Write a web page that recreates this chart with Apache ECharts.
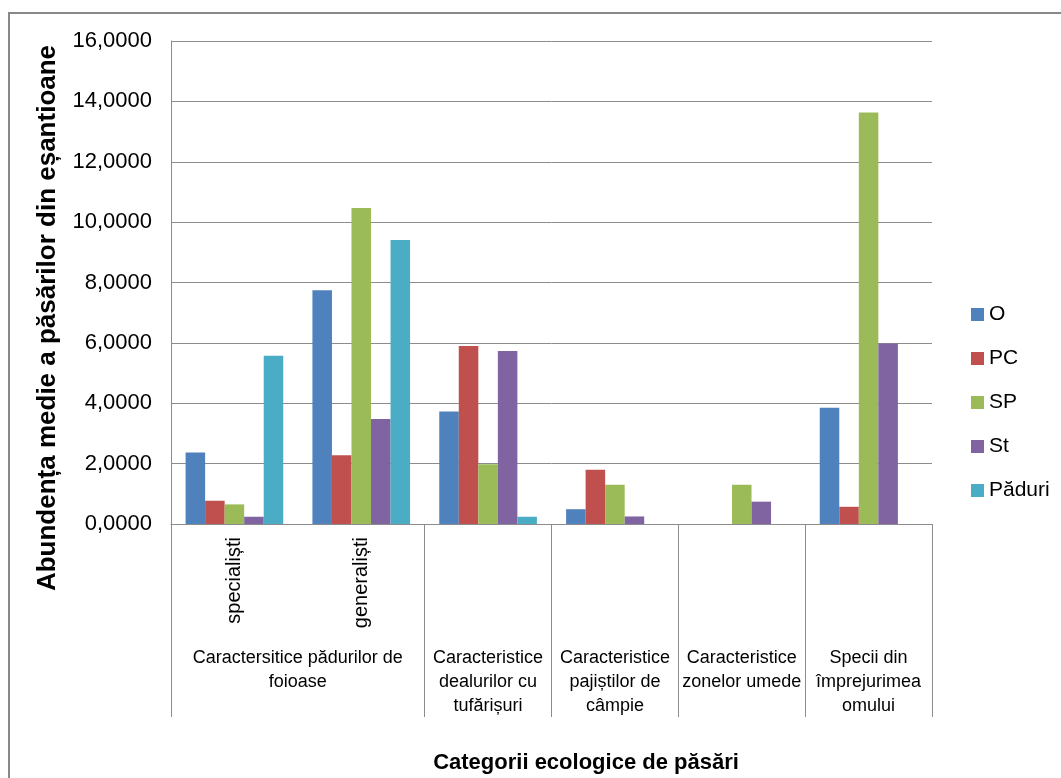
<!DOCTYPE html>
<html>
<head>
<meta charset="utf-8">
<script src="https://cdn.jsdelivr.net/npm/echarts@6/dist/echarts.min.js"></script>
<style>
  html, body { margin: 0; padding: 0; background: #fff; }
  #chart { width: 1061px; height: 778px; }
</style>
</head>
<body>
<div id="chart"></div>
<script>
// Ecological bird categories: group names and how many sub-categories each has
const groupNames = [
  'Caractersitice pădurilor de\nfoioase',
  'Caracteristice\ndealurilor cu\ntufărișuri',
  'Caracteristice\npajiștilor de\ncâmpie',
  'Caracteristice\nzonelor umede',
  'Specii din\nîmprejurimea\nomului'
];
const groupSizes = [2, 1, 1, 1, 1];

// leaf categories on the x axis (only the forest group is split)
const categories = ['specialiști', 'generaliști', 'dealuri', 'pajiști', 'zone umede', 'împrejurimi'];
const subLabelled = [true, true, false, false, false, false];

// mean abundance per sample, by habitat
const seriesNames = ['O', 'PC', 'SP', 'St', 'Păduri'];
const valuesO      = [2.37, 7.74, 3.73, 0.49, 0, 3.85];
const valuesPC     = [0.77, 2.28, 5.90, 1.80, 0, 0.57];
const valuesSP     = [0.65, 10.47, 1.98, 1.30, 1.30, 13.63];
const valuesSt     = [0.24, 3.48, 5.73, 0.25, 0.74, 5.98];
const valuesPaduri = [5.57, 9.41, 0.24, 0, 0, 0];

const yTicks = [0, 2, 4, 6, 8, 10, 12, 14, 16];
const yTitle = 'Abundența medie a păsărilor din eșantioane';
const xTitle = 'Categorii ecologice de păsări';

const colors = ['#4F81BD', '#C0504D', '#9BBB59', '#8064A2', '#4BACC6'];
const font = "'Liberation Sans', Arial, sans-serif";
const gray = '#8c8c8c';

// group boundaries and centres, measured in leaf-category units
const bounds = [0];
groupSizes.forEach(s => bounds.push(bounds[bounds.length - 1] + s));
const centers = groupSizes.map((s, i) => bounds[i] + s / 2);
const centerLabel = {};
centers.forEach((c, i) => { centerLabel[c.toFixed(2)] = groupNames[i]; });

const allValues = [valuesO, valuesPC, valuesSP, valuesSt, valuesPaduri];

const chart = echarts.init(document.getElementById('chart'), null, { renderer: 'canvas' });

chart.setOption({
  animation: false,
  color: colors,
  grid: { left: 171, right: 129, top: 41, bottom: 254, containLabel: false },
  legend: {
    orient: 'vertical',
    left: 966,
    top: 299,
    itemWidth: 13,
    itemHeight: 13,
    itemGap: 23,
    icon: 'rect',
    data: seriesNames,
    textStyle: { fontFamily: font, fontSize: 21, color: '#000', lineHeight: 21 }
  },
  xAxis: [
    {
      // leaf categories: carries the bars and the rotated sub-category labels
      type: 'category',
      data: categories,
      axisLine: { lineStyle: { color: gray, width: 1 } },
      axisTick: { show: false },
      axisLabel: {
        interval: 0,
        rotate: 90,
        margin: 13,
        fontFamily: font,
        fontSize: 20,
        color: '#000',
        formatter: (v, i) => subLabelled[i] ? v : ''
      }
    },
    {
      // group level: long separator ticks at group boundaries, names at centres
      type: 'value',
      min: 0,
      max: bounds[bounds.length - 1],
      position: 'bottom',
      axisLine: { show: false },
      splitLine: { show: false },
      axisTick: {
        show: true,
        length: 193,
        customValues: bounds,
        lineStyle: { color: gray, width: 1 }
      },
      axisLabel: {
        show: true,
        customValues: centers,
        margin: 122,
        fontFamily: font,
        fontSize: 18,
        lineHeight: 24,
        color: '#000',
        align: 'center',
        formatter: v => centerLabel[Number(v).toFixed(2)] || ''
      }
    }
  ],
  yAxis: {
    type: 'value',
    min: yTicks[0],
    max: yTicks[yTicks.length - 1],
    interval: 2,
    axisLine: { show: true, lineStyle: { color: gray, width: 1 } },
    axisTick: { show: false },
    splitLine: { lineStyle: { color: gray, width: 1 } },
    axisLabel: {
      margin: 19,
      fontFamily: font,
      fontSize: 22,
      color: '#000',
      formatter: v => v.toFixed(4).replace('.', ',')
    }
  },
  series: seriesNames.map((name, k) => ({
    name: name,
    type: 'bar',
    xAxisIndex: 0,
    data: allValues[k],
    barGap: '0%',
    barCategoryGap: '23%',
    itemStyle: { color: colors[k] }
  })),
  graphic: [
    {
      // chart-area frame
      type: 'rect',
      silent: true,
      shape: { x: 9, y: 13, width: 1200, height: 900 },
      style: { fill: 'none', stroke: '#888', lineWidth: 2 }
    },
    {
      type: 'text',
      x: 48,
      y: 318,
      rotation: Math.PI / 2,
      style: {
        text: yTitle,
        font: "bold 26px 'Liberation Sans', Arial, sans-serif",
        fill: '#000',
        align: 'center',
        verticalAlign: 'middle'
      }
    },
    {
      type: 'text',
      x: 586,
      y: 763,
      style: {
        text: xTitle,
        font: "bold 22px 'Liberation Sans', Arial, sans-serif",
        fill: '#000',
        align: 'center',
        verticalAlign: 'middle'
      }
    }
  ]
});
</script>
</body>
</html>
